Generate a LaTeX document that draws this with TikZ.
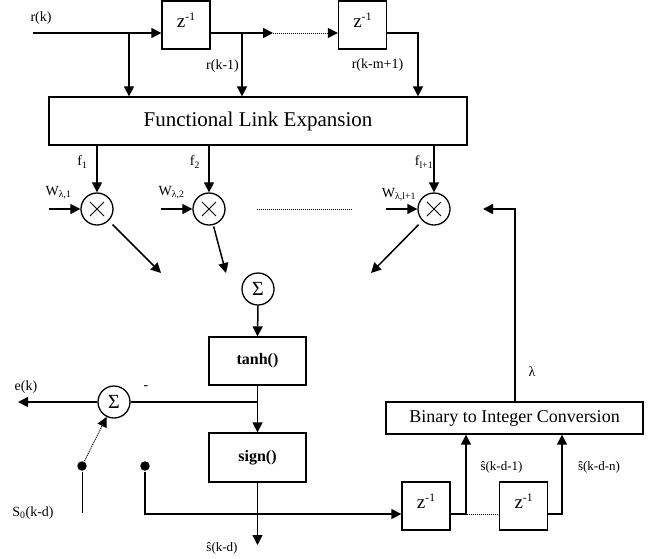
\documentclass[tikz,border=0pt]{standalone}
\usepackage{fontspec}
\setmainfont{Liberation Serif}
\usetikzlibrary{arrows.meta,calc}
\newcommand{\zinv}{{\fontsize{19}{19}\selectfont z\raisebox{6.5pt}{\fontsize{11.5}{11.5}\selectfont -1}}}
\begin{document}
\begin{tikzpicture}[x=1pt,y=-1pt,
  line width=1.5pt,
  arr/.style={-{Triangle[length=10pt,width=10pt]}},
  dotline/.style={line width=1pt,dash pattern=on 1pt off 1pt},
  box/.style={draw,line width=1.3pt,rectangle,inner sep=0pt},
  zbox/.style={box,minimum width=48pt,minimum height=48pt},
  circ/.style={draw,circle,line width=1.3pt,minimum size=32pt,inner sep=0pt},
  lbl/.style={font=\fontsize{14}{14}\selectfont,inner sep=0pt},
  slbl/.style={font=\fontsize{13}{13}\selectfont,inner sep=0pt},
  dot/.style={circle,fill,minimum size=9.5pt,inner sep=0pt},
  sig/.style={font=\fontsize{20}{20}\selectfont}
]
\useasboundingbox (0,0) rectangle (653,558);

% delay line top
\node[zbox] (z1) at (186,25) {};
\node[zbox] (z2) at (362.5,25) {};
\node[inner sep=0pt] (z1t) at (186,20) {\zinv};
\node[inner sep=0pt] (z2t) at (362.5,20) {\zinv};

\node[box,minimum width=418pt,minimum height=48pt,font=\fontsize{21}{21}\selectfont] (fle) at (258,121) {Functional Link Expansion};

\coordinate (in) at (33,33);
\coordinate (b1) at (129,33);
\coordinate (b2) at (242,33);
\coordinate (a1) at (273,33);
\coordinate (k3) at (418,33);

\draw[arr] (in) -- (in -| z1.west);
\draw[arr] (b1) -- (b1 |- fle.north);
\draw[arr] (z1.east |- in) -- (a1);
\draw[arr,dotline] (a1) -- (a1 -| z2.west);
\draw[arr] (b2) -- (b2 |- fle.north);
\draw[arr] (z2.east |- in) -- (k3) -- (k3 |- fle.north);

\node[lbl] (lrk) at (41,18) {r(k)};
\node[lbl] (lrk1) at (222.5,66) {r(k-1)};
\node[lbl] (lrkm) at (377.5,65) {r(k-m+1)};

% multipliers
\node[circ] (m1) at (97,209) {};
\node[circ] (m2) at (209,209) {};
\node[circ] (m3) at (434,209) {};
\foreach \m in {m1,m2,m3}{
  \draw[line width=1pt] ($(\m)+(-7,-7)$) -- ($(\m)+(7,7)$);
  \draw[line width=1pt] ($(\m)+(-7,7)$) -- ($(\m)+(7,-7)$);
}
\draw[arr] (fle.south -| m1) -- (m1.north);
\draw[arr] (fle.south -| m2) -- (m2.north);
\draw[arr] (fle.south -| m3) -- (m3.north);

\node[lbl] (lf1) at (82.5,162) {f\textsubscript{1}};
\node[lbl] (lf2) at (195,162) {f\textsubscript{2}};
\node[lbl] (lf3) at (424,162) {f\textsubscript{l+1}};

\coordinate (w1) at (49,209);
\coordinate (w2) at (161,209);
\coordinate (w3) at (386,209);
\draw[arr] (w1) -- (m1.west);
\draw[arr] (w2) -- (m2.west);
\draw[arr] (w3) -- (m3.west);
\node[lbl] (lw1) at (58.5,193) {W\textsubscript{λ,1}};
\node[lbl] (lw2) at (171.5,193) {W\textsubscript{λ,2}};
\node[lbl] (lw3) at (399,195) {W\textsubscript{λ,l+1}};

\coordinate (p1) at (257,209);
\coordinate (p2) at (352,209);
\draw[dotline] (p1) -- (p2);

\coordinate (t1) at (161,273);
\coordinate (t2) at (226,273);
\coordinate (t3) at (371,273);
\draw[arr] ($(m1)!22pt!(t1)$) -- (t1);
\draw[arr] ($(m2)!18pt!(t2)$) -- (t2);
\draw[arr] ($(m3)!22pt!(t3)$) -- (t3);

% sum and nonlinearity
\node[circ,sig] (s1) at (258,289) {Σ};
\node[box,minimum width=97pt,minimum height=48pt,font=\fontsize{16}{16}\selectfont\bfseries] (tanh) at (257.5,361) {tanh()};
\node[box,minimum width=97pt,minimum height=49pt,font=\fontsize{16}{16}\selectfont\bfseries] (sign) at (257.5,457.5) {sign()};
\draw[arr] (s1.south) -- (tanh.north);
\draw[arr] (tanh.south) -- (sign.north);

\node[circ,sig] (s2) at (114,402) {Σ};
\draw (tanh.south |- s2) -- (s2.east);
\coordinate (eout) at (18,402);
\draw[arr] (s2.west) -- (eout);
\node[lbl] (lek) at (26,387) {e(k)};
\node[lbl] (lminus) at (146,388) {-};

\node[dot] (d1) at (82,466) {};
\node[dot] (d2) at (145,466) {};
\coordinate (g1) at (82,513);
\draw[line width=0.8pt] (d1) -- (g1);
\draw[arr,dotline] (d1) -- (s2);
\node[lbl] (ls0) at (33,513) {S\textsubscript{0}(k-d)};

\coordinate (sout) at (257.5,545);
\draw[arr] (sign.south) -- (sout);
\node[slbl] (lsk) at (222,548) {ŝ(k-d)};

% lower delay line
\node[zbox] (z3) at (426,506) {};
\node[zbox] (z4) at (523.5,506) {};
\node[inner sep=0pt] (z3t) at (426,501) {\zinv};
\node[inner sep=0pt] (z4t) at (523.5,501) {\zinv};

\coordinate (g2) at (145,514);
\draw[arr] (d2) -- (g2) -- (g2 -| z3.west);
\draw[dotline] (z3.east |- g2) -- (z4.west |- g2);

\node[box,minimum width=257pt,minimum height=32pt,font=\fontsize{18}{18}\selectfont] (bic) at (514.5,418) {Binary to Integer Conversion};

\coordinate (h1) at (466,514);
\coordinate (h2) at (562,514);
\draw[arr] (z3.east |- g2) -- (h1) -- (h1 |- bic.south);
\draw[arr] (z4.east |- g2) -- (h2) -- (h2 |- bic.south);
\node[slbl] (ls1) at (501.5,467) {ŝ(k-d-1)};
\node[slbl] (lsn) at (599,467) {ŝ(k-d-n)};

\coordinate (l1) at (515,209);
\coordinate (l2) at (483,209);
\draw[arr] (bic.north -| l1) -- (l1) -- (l2);
\node[lbl] (llam) at (532,372) {λ};
\end{tikzpicture}
\end{document}
